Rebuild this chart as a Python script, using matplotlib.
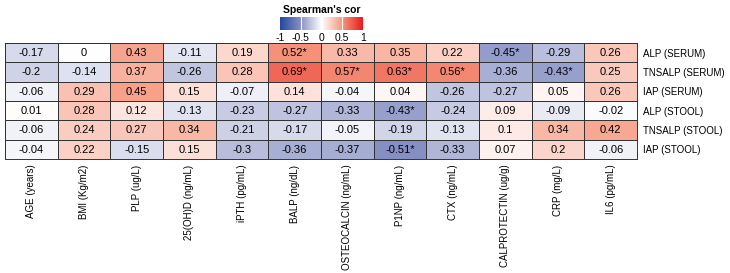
import numpy as np
import matplotlib
matplotlib.use("Agg")
import matplotlib.pyplot as plt
from matplotlib.colors import LinearSegmentedColormap, Normalize

plt.rcParams['font.family'] = ['Liberation Sans', 'DejaVu Sans']

rows = ["ALP (SERUM)", "TNSALP (SERUM)", "IAP (SERUM)",
        "ALP (STOOL)", "TNSALP (STOOL)", "IAP (STOOL)"]
cols = ["AGE (years)", "BMI (Kg/m2)", "PLP (ug/L)", "25(OH)D (ng/mL)",
        "iPTH (pg/mL)", "BALP (ng/dL)", "OSTEOCALCIN (ng/mL)", "P1NP (ng/mL)",
        "CTX (ng/mL)", "CALPROTECTIN (ug/g)", "CRP (mg/L)", "IL6 (pg/mL)"]

alp_serum = [-0.17, 0, 0.43, -0.11, 0.19, 0.52, 0.33, 0.35, 0.22, -0.45, -0.29, 0.26]
tnsalp_serum = [-0.2, -0.14, 0.37, -0.26, 0.28, 0.69, 0.57, 0.63, 0.56, -0.36, -0.43, 0.25]
iap_serum = [-0.06, 0.29, 0.45, 0.15, -0.07, 0.14, -0.04, 0.04, -0.26, -0.27, 0.05, 0.26]
alp_stool = [0.01, 0.28, 0.12, -0.13, -0.23, -0.27, -0.33, -0.43, -0.24, 0.09, -0.09, -0.02]
tnsalp_stool = [-0.06, 0.24, 0.27, 0.34, -0.21, -0.17, -0.05, -0.19, -0.13, 0.1, 0.34, 0.42]
iap_stool = [-0.04, 0.22, -0.15, 0.15, -0.3, -0.36, -0.37, -0.51, -0.33, 0.07, 0.2, -0.06]

# significant cells (marked with *)
sig = [(0, 5), (0, 9), (1, 5), (1, 6), (1, 7), (1, 8), (1, 10), (3, 7), (5, 7)]

vals = np.array([alp_serum, tnsalp_serum, iap_serum, alp_stool, tnsalp_stool, iap_stool])

cmap = LinearSegmentedColormap.from_list("spear", [
    (0.0, (35/255, 72/255, 160/255)),
    (0.25, (135/255, 145/255, 196/255)),
    (0.5, (1, 1, 1)),
    (0.75, (246/255, 150/255, 125/255)),
    (1.0, (232/255, 28/255, 28/255)),
])
norm = Normalize(-1, 1)

fig = plt.figure(figsize=(7.3, 2.73), dpi=100)
ax = fig.add_axes([5/730, 1 - 159/273, 632/730, 116/273])
ax.pcolormesh(vals, cmap=cmap, norm=norm, edgecolors="#333333", linewidth=0.7)
ax.set_xlim(0, len(cols))
ax.set_ylim(len(rows), 0)

for i in range(len(rows)):
    for j in range(len(cols)):
        txt = f"{vals[i, j]:g}"
        if (i, j) in sig:
            txt += "*"
        ax.text(j + 0.5, i + 0.52, txt, ha="center", va="center", fontsize=8)

ax.set_xticks(np.arange(len(cols)) + 0.5)
ax.set_xticklabels(cols, rotation=90, fontsize=7, va="top")
ax.set_yticks(np.arange(len(rows)) + 0.5)
ax.set_yticklabels(rows, fontsize=7)
ax.yaxis.tick_right()
ax.tick_params(length=0, pad=4)
for s in ax.spines.values():
    s.set_edgecolor("#333333")
    s.set_linewidth(0.7)

# colour key
cax = fig.add_axes([280/730, 1 - 30/273, 83/730, 13/273])
grad = np.linspace(-1, 1, 256).reshape(1, -1)
cax.imshow(grad, aspect="auto", cmap=cmap, norm=norm, extent=[-1, 1, 0, 1])
for t in [-0.5, 0, 0.5]:
    cax.axvline(t, color="white", lw=0.8)
cax.set_xlim(-1, 1)
cax.set_yticks([])
cax.set_xticks([-1, -0.5, 0, 0.5, 1])
cax.set_xticklabels(["-1", "-0.5", "0", "0.5", "1"], fontsize=7.5)
cax.tick_params(length=0, pad=2)
for s in cax.spines.values():
    s.set_visible(False)
cax.set_title("Spearman's cor", fontsize=7.5, fontweight="bold", pad=3)

fig.savefig("out.png", dpi=100)
